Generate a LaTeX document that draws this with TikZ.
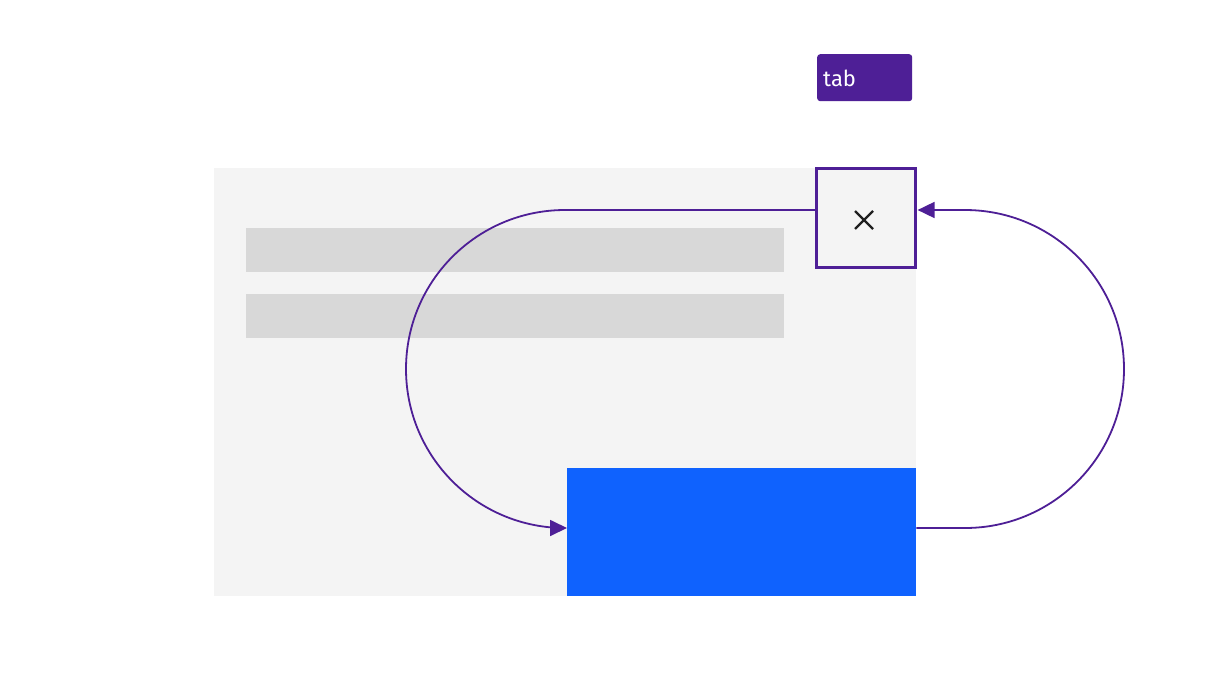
\documentclass[tikz,border=0pt]{standalone}
\usepackage{fontspec}
\setmainfont{Fira Sans}
\usetikzlibrary{arrows.meta}
\definecolor{panel}{HTML}{F4F4F4}
\definecolor{bar}{HTML}{D8D8D8}
\definecolor{cblue}{HTML}{0F62FE}
\definecolor{cpurple}{HTML}{4E1F96}
\tikzset{
  flow/.style={draw=cpurple, line width=1.8pt, -{Triangle[length=17pt,width=16pt]}},
  barbox/.style={fill=bar, draw=none},
}
\begin{document}
\begin{tikzpicture}[x=1pt,y=-1pt]
\useasboundingbox[fill=white] (0,0) rectangle (1216,686);
% panel
\fill[panel] (214,168) rectangle (916,596);
\fill[barbox] (246,228) rectangle (784,272);
\fill[barbox] (246,294) rectangle (784,338);
% blue action
\node[fill=cblue, minimum width=349pt, minimum height=128pt, inner sep=0pt, anchor=north west] (act) at (567,468) {};
% close button
\node[fill=panel, draw=cpurple, line width=2.2pt, minimum width=99pt, minimum height=99pt, inner sep=0pt] (close) at (866,218) {};
\draw[line width=2.2pt, color=black!88] (855,211) -- (873,229) (873,211) -- (855,229);
% tab label
\node[fill=cpurple, rounded corners=3pt, minimum width=95pt, minimum height=47pt, inner sep=0pt, anchor=north west] (tab) at (817,54) {};
\node[anchor=west, text=white, font=\fontsize{22}{25}\selectfont, inner sep=0pt] (tabtxt) at (823,78) {tab};
% connectors
\coordinate (c1) at (565,210);
\coordinate (c2) at (965,528);
\draw[flow] (close.west |- c1) -- (c1) arc[start angle=-90, end angle=-270, radius=159] -- (act.west |- c2);
\draw[flow] (act.east |- c2) -- (c2) arc[start angle=90, end angle=-90, radius=159] -- ([xshift=1pt]close.east |- c1);
\end{tikzpicture}
\end{document}
